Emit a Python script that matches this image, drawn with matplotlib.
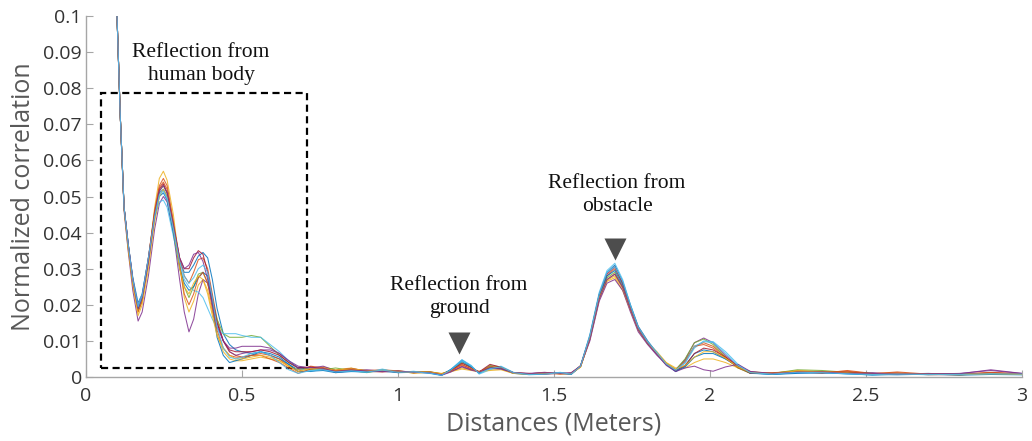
import matplotlib
matplotlib.use("Agg")
import matplotlib.pyplot as plt
from matplotlib.patches import Rectangle
from matplotlib.ticker import FuncFormatter

# ---------------- data (correlation values in units of 1e-3) ----------------
body_x = [0.099, 0.11, 0.122, 0.135, 0.15, 0.167, 0.18, 0.20, 0.22, 0.235,
          0.248, 0.26, 0.28, 0.30, 0.315, 0.33, 0.345, 0.36, 0.375, 0.39,
          0.405, 0.42, 0.44, 0.46, 0.48, 0.50, 0.53, 0.56, 0.59, 0.62,
          0.65, 0.68]
tail_x = [0.72, 0.76, 0.80, 0.85, 0.90, 0.95, 1.00, 1.05, 1.10, 1.14,
          1.17, 1.205, 1.235, 1.26, 1.295, 1.33, 1.37, 1.42, 1.47, 1.52,
          1.555, 1.585, 1.615, 1.645, 1.67, 1.695, 1.72, 1.745, 1.77, 1.80,
          1.83, 1.86, 1.89, 1.92, 1.95, 1.98, 2.01, 2.05, 2.09, 2.13,
          2.20, 2.28, 2.36, 2.44, 2.52, 2.60, 2.70, 2.80, 2.90, 3.00]

body_corr = [
    [101,72,47,37,27.5,20.5,23,33,45,51,52,50,41,32,29,29,31,33.5,34.5,33,27,19,12,9,7.5,7,6.5,7,6,5,3.5,2],
    [101,72,47,37,27,19,22,33,46,52.5,54,52,43,33,28,26,29,32.5,33,30,23,16,10,7,6,5.5,6,6.5,6,5,3,1.5],
    [101,72,47,36,26,18,21,32,47,55,57,54.5,45,31,22,18,21,25.5,27,24,18,12,7,5,4.5,4.5,5,5.5,5,4.5,3,2],
    [101,72,46,35,24,15.5,18,28,41,48,50,48.5,40,27,18,12.5,16,23,27,26,21,15,10,7,6,6.5,7,7.5,7.5,6.5,4.5,3],
    [101,72,47,36.5,26.5,18.5,21.5,32,45,51.5,53,51,42,31,25,22,25,28.5,29,26,21,16,12,11,11,11,11.5,11,8.5,6,4,2.5],
    [101,72,47,37,27.5,20,23,33,44,48.5,49,47,39,31,27,25,24,23.5,22,19,16,13.5,12,12,12,11.5,11,11,9,7,4.5,2.5],
    [101,72,47,37,27,19.5,22.5,33,45.5,52,53.5,51,42,33,30,30,33,35,34,29,22,15,10,7.5,7,7,7,7.5,7,6,4,2.5],
    [101,72,47,36.5,26.5,19,22,32,44,50,51,49,40,30,26,24,25,27.5,29,28,20,11,6,4,4.5,5,6,7,6.5,5.5,3.5,1.5],
    [101,72,47,36,26,18,21,32,46,53,55,53,43,31,23,20,23,27.5,29,26,19,13,8,6,5.5,5.5,6,6,5,4,2.5,1],
    [101,72,46.5,35.5,25.5,17,20,30,43,50,52,50,41,30,25,23,26,28,27,23,17,11.5,8,6,5,5,5.5,6,5.5,4.5,3,1.5],
    [101,72,47,37,27,19,22,32,45,51.5,53,51,42,33,30,31,34,34.5,32,27,20,14,10,8,8,8.5,8.5,8.5,8,6.5,4.5,2.5],
    [101,72,47,37,27,19.5,22.5,33,44.5,50.5,51.5,49.5,41,32,28,26,27.5,30,31,29,22,14,8,5.5,5,5.5,6.5,7,6,4,2,1],
]

tail_corr = [
    [2.5,2,1.5,2.2,1.5,1.8,1.3,1.5,1.2,0.6, 2,4.7,3,1,2.5,2.8,1.2,0.8,1,1.2,
     0.8,3,11.5,23,29,31,26.5,20,14,10, 6.5,3.5,1.5,3,6.5,7.5,7,5,3,1, 0.8,1.2,1.5,1,0.5,0.8,1,0.6,1,0.7],
    [3,2.5,1.2,1.8,1.8,2,1.7,1.3,1.5,0.9, 1.8,3.5,2.2,1.3,3,2.5,1,0.9,1.2,0.8,
     1,3.2,11,22.5,28,30,26,19.5,13.5,9.5, 6.5,3.8,2,4.5,8.5,9.5,8.5,5.5,2.5,1, 1.2,1.5,1,1.8,1,1.2,0.6,0.8,1.3,0.9],
    [2,2.8,2,2.5,1.5,1.5,1.8,1,1.3,1, 1.6,2.5,2,1.6,2.2,2.2,1,0.7,1,1,
     1,2.8,10.5,21.5,26.5,27.5,24,18.5,13,9.5, 7,4,2.5,2.5,4,5,5,4,2.5,1.5, 1,1.8,1.5,1.2,0.8,1,0.9,0.7,1,0.8],
    [2.5,3,1.8,2,2,1.6,1.5,1.4,1.2,0.5, 1.4,3,2,1.5,2.5,2.3,1.2,1,1.3,0.9,
     1.2,3,10,21,26,27,24,18,12.5,9, 6,3.5,2,4.8,9.5,10.8,9.5,6,3,1.5, 0.8,1.5,1.3,1,1.2,0.7,0.8,1,1.8,1],
    [2,2,2.5,1.8,1.2,2,1.4,1.2,1.5,0.8, 2,4,2.7,1.2,3.2,2.8,1.1,0.8,0.9,1.1,
     0.9,2.9,10.8,22,27.5,29,25,19,13.5,9.5, 6.5,3.5,2,5,9.5,10.5,9,5.5,2.5,1, 1,2,1.8,1.3,1,0.8,0.7,0.9,1,0.7],
    [1.5,2.2,1.3,1.6,1.3,2.2,1.2,1.6,1,0.4, 2.2,4.8,3.2,0.8,2,3,1.3,0.6,0.8,1.3,
     0.8,3.1,11.8,23.5,29.5,31.5,27,20,14,10, 6.8,3.5,1.8,3.8,8,10,9.8,7,3.5,1.2, 0.7,1.2,1.3,0.8,0.6,0.9,0.6,0.8,0.9,0.9],
    [2.8,2.2,1.8,2.4,1.6,1.4,1.6,1.2,1.4,0.7, 1.9,3.8,2.6,1.4,3.5,2.7,1.1,1,0.8,1,
     1,3,11.2,22.8,28.5,30.5,26,19.5,13.8,9.8, 6.6,3.6,1.8,3.2,6.5,8,7.5,5.5,3,1, 1,1.4,1.2,1.4,0.9,1,0.7,0.6,1.1,0.8],
    [1.6,1.8,1.2,1.5,1.4,1.6,1.2,1.3,1.1,0.5, 2.1,4.3,2.8,1.1,2.7,2.4,1,0.7,0.9,1,
     0.7,2.9,11,22.5,28,29.5,25.5,19.5,13.5,9.5, 6.5,3.4,1.6,2.8,5.5,6.5,6.5,5,2.8,1.1, 0.7,1,1.1,0.9,0.7,0.6,0.8,0.5,0.7,0.6],
    [2.2,2.6,1.6,2.1,1.7,1.7,1.4,1.2,1.3,0.8, 1.7,3.3,2.3,1.4,2.8,2.6,1.2,0.9,1.1,0.9,
     0.9,2.8,10.8,22,27,28.5,25,19,13.2,9.3, 6.4,3.6,1.9,4.2,8.5,9,8,5.2,2.6,1.2, 1.1,1.6,1.4,1.6,0.9,1.4,0.8,0.7,1.2,0.8],
    [2.4,2.3,1.9,2.3,1.8,1.7,1.6,1.3,1.4,0.9, 1.5,2.2,1.8,1.5,1.8,2,1,0.8,1.1,0.9,
     1,2.7,10.6,21.8,26.8,28,24.5,18.5,13,9.3, 6.6,3.8,2.2,3.2,5.5,7,7,5.2,2.8,1.3, 0.9,1.7,1.4,1.1,0.8,0.9,0.8,0.6,0.9,0.7],
    [2.6,2.4,1.5,1.9,1.7,1.5,1.7,1.3,1.2,0.6, 1.5,2.8,1.9,1.4,2.4,2.2,1.2,0.9,1.2,1,
     1.1,3,10.4,21.6,27,28.5,24.8,18.6,13,9.2, 6.2,3.2,1.5,2.5,3,2,1.6,2.8,3.5,1.5, 1,1.3,1.4,1,1,0.8,0.9,0.9,2,1],
    [1.8,2,1.4,1.7,1.4,1.9,1.3,1.4,1.1,0.5, 2,4.5,3,1,2.3,2.8,1.2,0.7,0.8,1.2,
     0.8,3,11.5,23,29,30.5,26.5,19.8,13.8,9.8, 6.7,3.6,1.9,4,8.5,9.8,9.5,6.5,3.2,1.2, 0.8,1.3,1.2,0.9,0.7,0.8,0.7,0.7,0.9,0.8],
]

x_ticks = [0, 0.5, 1, 1.5, 2, 2.5, 3]
y_ticks = [0, 0.01, 0.02, 0.03, 0.04, 0.05, 0.06, 0.07, 0.08, 0.09, 0.1]

annotations = [
    ("Reflection from\nhuman body", 0.369, 0.0867),
    ("Reflection from\nground", 1.196, 0.0222),
    ("Reflection from\nobstacle", 1.702, 0.0504),
]
markers_x = [1.197, 1.697]
markers_y = [0.0094, 0.0355]
box_x = [0.047, 0.707]
box_y = [0.0026, 0.0788]

colors = ["#0072BD", "#D95319", "#EDB120", "#7E2F8E", "#77AC30", "#4DBEEE",
          "#A2142F", "#0072BD", "#D95319", "#EDB120", "#7E2F8E", "#4DBEEE"]

# ---------------- figure ----------------
fig = plt.figure(figsize=(10.32, 4.41), dpi=100)
ax = fig.add_axes([86 / 1032, 1 - 377 / 441, 936 / 1032, 361 / 441])

distance = body_x + tail_x
for b, t, c in zip(body_corr, tail_corr, colors):
    vals = [v / 1000.0 for v in (b + t)]
    ax.plot(distance, vals, color=c, lw=0.75, alpha=0.85)

ax.set_xlim(0, 3)
ax.set_ylim(0, 0.1)
ax.set_xticks(x_ticks)
ax.set_yticks(y_ticks)
ax.xaxis.set_major_formatter(FuncFormatter(lambda v, p: f"{v:g}"))
ax.yaxis.set_major_formatter(FuncFormatter(lambda v, p: f"{v:g}"))

for s in ["top", "right"]:
    ax.spines[s].set_visible(False)
for s in ["left", "bottom"]:
    ax.spines[s].set_color("#a6a6a6")
    ax.spines[s].set_linewidth(1.0)

ax.tick_params(direction="in", length=5, width=0.8, color="#a6a6a6",
               labelsize=14, labelcolor="#333333")
ax.tick_params(axis="x", pad=7)
ax.tick_params(axis="y", pad=3)
for lbl in ax.get_xticklabels() + ax.get_yticklabels():
    lbl.set_family("Open Sans")

ax.set_xlabel("Distances (Meters)", family="Open Sans", fontsize=18,
              color="#595959", labelpad=5)
ax.set_ylabel("Normalized correlation", family="Open Sans", fontsize=18,
              color="#595959", labelpad=5)

# dashed box
ax.add_patch(Rectangle((box_x[0], box_y[0]), box_x[1] - box_x[0], box_y[1] - box_y[0],
                       fill=False, ec="black", lw=1.6, ls=(0, (3.2, 2.0))))

for txt, tx, ty in annotations:
    ax.text(tx, ty, txt, ha="center", va="center", family="Liberation Serif",
            fontsize=15.5, color="#111111", linespacing=1.25)

ax.plot(markers_x, markers_y, ls="none", marker="v", ms=15.5,
        color="#4d4d4d", mec="none")

fig.savefig("out.png", dpi=100)
